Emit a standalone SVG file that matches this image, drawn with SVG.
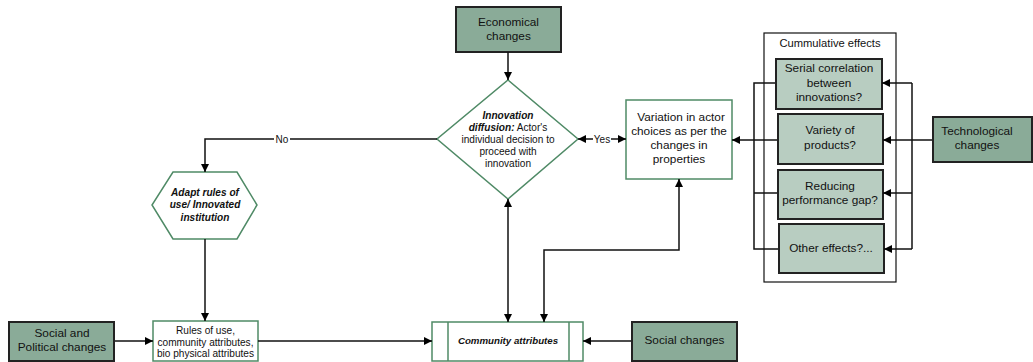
<svg xmlns="http://www.w3.org/2000/svg" width="1033" height="362" viewBox="0 0 1033 362">
  <defs>
    <marker id="arrow" viewBox="0 0 10 10" refX="10" refY="5" markerWidth="9" markerHeight="8" markerUnits="userSpaceOnUse" orient="auto-start-reverse">
      <path d="M0,0 L10,5 L0,10 Z" fill="#000"/>
    </marker>
    <style>
      text { font-family: "Liberation Sans", Arial, sans-serif; fill: #111; text-anchor: middle; dominant-baseline: central; }
      .driver { fill: #8aab98; stroke: #222; stroke-width: 2; }
      .effect { fill: #b8cdc1; stroke: #222; stroke-width: 2; }
      .outline { fill: #fff; stroke: #4f8a66; stroke-width: 1.5; }
      .frame { fill: #fff; stroke: #111; stroke-width: 1.2; }
      .link { fill: none; stroke: #111; stroke-width: 1.5; }
      .t12 { font-size: 11.8px; }
      .t10 { font-size: 10.1px; }
      .bi { font-weight: bold; font-style: italic; }
      .lbl { font-size: 10px; }
    </style>
  </defs>

  <g id="economical-changes">
    <rect class="driver" x="456" y="7" width="105" height="45"/>
    <text class="t12" x="508.5" y="22">Economical</text>
    <text class="t12" x="508.5" y="36">changes</text>
  </g>

  <g id="innovation-diffusion">
    <polygon class="outline" points="508,80 578,139 508,199 437,139"/>
    <text class="t10" x="508" y="115"><tspan class="bi">Innovation</tspan></text>
    <text class="t10" x="508" y="127"><tspan class="bi">diffusion:</tspan> Actor's</text>
    <text class="t10" x="508" y="139">individual decision to</text>
    <text class="t10" x="508" y="151">proceed with</text>
    <text class="t10" x="508" y="163">innovation</text>
  </g>

  <g id="variation">
    <rect class="outline" x="626" y="100" width="106" height="79"/>
    <text class="t12" x="681" y="117">Variation in actor</text>
    <text class="t12" x="679" y="131">choices as per the</text>
    <text class="t12" x="679" y="145">changes in</text>
    <text class="t12" x="679" y="159">properties</text>
  </g>

  <g id="adapt-rules">
    <polygon class="outline" points="173,172 237,172 257,205 237,239 173,239 152,205"/>
    <text class="t10 bi" x="205" y="192">Adapt rules of</text>
    <text class="t10 bi" x="205" y="204">use/ Innovated</text>
    <text class="t10 bi" x="205" y="217">institution</text>
  </g>

  <g id="rules-of-use">
    <rect class="outline" x="153" y="321" width="105" height="40"/>
    <text class="t10" x="205.5" y="330">Rules of use,</text>
    <text class="t10" x="205.5" y="342">community attributes,</text>
    <text class="t10" x="205.5" y="353">bio physical attributes</text>
  </g>

  <g id="social-political-changes">
    <rect class="driver" x="9" y="322" width="105" height="39"/>
    <text class="t12" x="62" y="333">Social and</text>
    <text class="t12" x="62" y="347">Political changes</text>
  </g>

  <g id="community-attributes">
    <rect class="outline" x="432" y="322" width="151" height="39"/>
    <line x1="448" y1="322" x2="448" y2="361" stroke="#4f8a66" stroke-width="1.5"/>
    <line x1="569" y1="322" x2="569" y2="361" stroke="#4f8a66" stroke-width="1.5"/>
    <text class="bi" style="font-size:9.7px" x="508" y="340">Community attributes</text>
  </g>

  <g id="social-changes">
    <rect class="driver" x="632" y="322" width="105" height="39"/>
    <text class="t12" x="684.5" y="340">Social changes</text>
  </g>

  <g id="cumulative-effects">
    <rect class="frame" x="764" y="33" width="132" height="249"/>
    <text style="font-size:11.2px" x="830" y="43">Cummulative effects</text>
  </g>

  <g id="serial-correlation">
    <rect class="effect" x="776" y="59" width="106" height="50"/>
    <text class="t12" x="829" y="68">Serial correlation</text>
    <text class="t12" x="829" y="83">between</text>
    <text class="t12" x="829" y="97">innovations?</text>
  </g>

  <g id="variety-of-products">
    <rect class="effect" x="778" y="114" width="105" height="50"/>
    <text class="t12" x="830" y="130">Variety of</text>
    <text class="t12" x="830" y="145">products?</text>
  </g>

  <g id="performance-gap">
    <rect class="effect" x="778" y="170" width="105" height="49"/>
    <text class="t12" x="830" y="186">Reducing</text>
    <text class="t12" x="830" y="200">performance gap?</text>
  </g>

  <g id="other-effects">
    <rect class="effect" x="779" y="224" width="105" height="49"/>
    <text class="t12" x="831" y="248">Other effects?...</text>
  </g>

  <g id="technological-changes">
    <rect class="driver" x="933" y="117" width="99" height="45"/>
    <text class="t12" x="977" y="131">Technological</text>
    <text class="t12" x="977" y="145">changes</text>
  </g>

  <!-- connectors, drawn last so arrowheads sit on top of node borders -->
  <g id="connectors">
    <!-- Economical changes to decision -->
    <path class="link" d="M508,52 V80" marker-end="url(#arrow)"/>
    <!-- No branch -->
    <path class="link" d="M437,139 H205 V172" marker-end="url(#arrow)"/>
    <rect x="274" y="133" width="16" height="12" fill="#fff"/>
    <text class="lbl" x="282" y="139">No</text>
    <!-- Yes branch (both directions) -->
    <path class="link" d="M578,139 H626" marker-start="url(#arrow)" marker-end="url(#arrow)"/>
    <rect x="593" y="133" width="18" height="12" fill="#fff"/>
    <text class="lbl" x="602" y="139">Yes</text>
    <!-- hexagon to rules -->
    <path class="link" d="M205,239 V321" marker-end="url(#arrow)"/>
    <!-- social and political to rules -->
    <path class="link" d="M115,341 H153" marker-end="url(#arrow)"/>
    <!-- rules to community -->
    <path class="link" d="M258,341 H432" marker-end="url(#arrow)"/>
    <!-- social changes to community -->
    <path class="link" d="M631,341 H583" marker-end="url(#arrow)"/>
    <!-- decision <-> community -->
    <path class="link" d="M508,199 V322" marker-start="url(#arrow)" marker-end="url(#arrow)"/>
    <!-- variation <-> community -->
    <path class="link" d="M679,179 V250 H544 V322" marker-start="url(#arrow)" marker-end="url(#arrow)"/>
    <!-- cumulative effects to variation -->
    <path class="link" d="M754,140 H732" marker-end="url(#arrow)"/>
    <path class="link" d="M775,83 H754 V249 H778"/>
    <path class="link" d="M777,140 H754"/>
    <path class="link" d="M777,193 H754"/>
    <!-- technological changes to cumulative effects -->
    <path class="link" d="M932,140 H883" marker-end="url(#arrow)"/>
    <path class="link" d="M912,83 V249"/>
    <path class="link" d="M912,83 H882" marker-end="url(#arrow)"/>
    <path class="link" d="M912,193 H883" marker-end="url(#arrow)"/>
    <path class="link" d="M912,249 H884" marker-end="url(#arrow)"/>
  </g>
</svg>
